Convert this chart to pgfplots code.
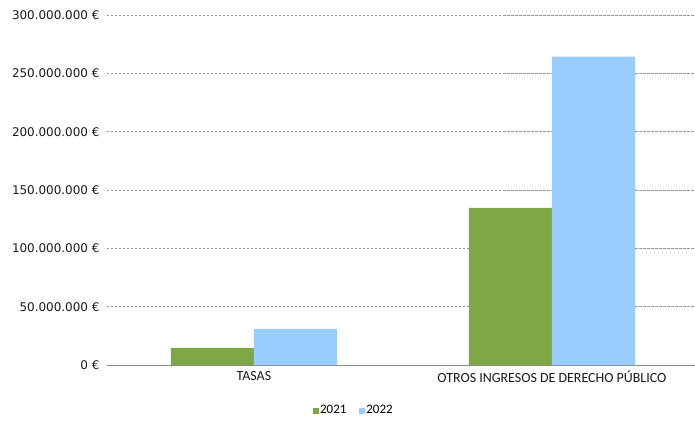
\documentclass[border=0pt]{standalone}
\usepackage{pgfplots}
\pgfplotsset{compat=1.18}
\usepackage{fontspec}
\setmainfont{DejaVu Sans}
\newfontfamily\calib{Carlito}
\definecolor{cgreen}{RGB}{126,167,70}
\definecolor{cblue}{RGB}{153,204,255}
\begin{document}
\begin{tikzpicture}
\begin{axis}[
  scale only axis,
  width=588bp, height=350bp,
  xmin=-0.493, xmax=1.48,
  ymin=0, ymax=300000000,
  scaled y ticks=false,
  ytick={0,50000000,100000000,150000000,200000000,250000000,300000000},
  yticklabels={0 €,50.000.000 €,100.000.000 €,150.000.000 €,200.000.000 €,250.000.000 €,300.000.000 €},
  xtick={0,1},
  xticklabels={TASAS,OTROS INGRESOS DE DERECHO PÚBLICO},
  yticklabel style={font=\fontsize{12}{14}\selectfont, text=black!90, xshift=-4bp},
  xticklabel style={font=\calib\fontsize{14}{16}\selectfont, text=black!90, yshift=-2.5bp},
  major tick length=0pt,
  axis x line*=bottom, axis y line*=left,
  x axis line style={draw=black!45, line width=0.7pt},
  y axis line style={draw=none},
  ymajorgrids,
  grid style={dash pattern=on 2.5bp off 1.5bp, draw=black!40, line width=0.7pt},
  ybar, bar width=0.2785,
  legend style={at={(0.419,-0.130)}, anchor=center, draw=none, legend columns=2,
    font=\calib\fontsize{13}{15}\selectfont,
    nodes={inner sep=1.5bp},
    /tikz/every even column/.append style={column sep=11bp}},
  legend image code/.code={\fill[#1] (0bp,-3bp) rectangle (6bp,3bp);},
]
\addplot[draw=none, fill=cgreen, bar shift=-0.13925] coordinates {(0,14600000) (1,134600000)};
\addplot[draw=none, fill=cblue, bar shift=0.13925] coordinates {(0,30900000) (1,264300000)};
\legend{2021,2022}
\end{axis}
\pgfresetboundingbox
\path (-107bp,-56bp) rectangle (588bp,365bp);
\end{tikzpicture}
\end{document}
